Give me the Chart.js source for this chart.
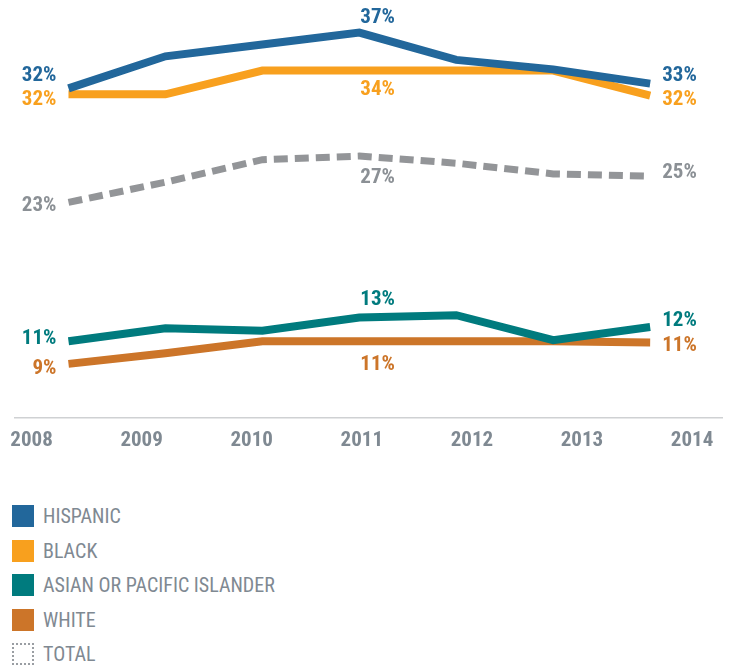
<!DOCTYPE html>
<html>

<head>
    <title>Rates by group, 2008-2014</title>
    <script src="https://cdn.jsdelivr.net/npm/chart.js"></script>
    <style>
        body {
            margin: 0;
            padding: 0;
            background-color: #fff;
            font-family: 'Liberation Sans Narrow', 'Roboto Condensed', Roboto, sans-serif;
        }

        .chart-wrap {
            position: relative;
            width: 731px;
            height: 472px;
        }

        #legend {
            list-style: none;
            margin: 0;
            padding: 0;
            position: absolute;
            left: 12px;
            top: 499px;
        }

        #legend li {
            display: flex;
            align-items: center;
            height: 34.5px;
            font-size: 20px;
            color: #7f8992;
        }

        #legend .box {
            width: 22px;
            height: 22px;
            margin-right: 9px;
            box-sizing: border-box;
        }
    </style>
</head>

<body>
    <div class="chart-wrap">
        <canvas id="rates-chart"></canvas>
    </div>
    <ul id="legend"></ul>

    <script>
        const FONT = "'Liberation Sans Narrow', 'Roboto Condensed', Roboto, sans-serif";

        // data (percent)
        const years = [2008, 2009, 2010, 2011, 2012, 2013, 2014];
        const hispanic = [32.3, 35.0, 36.0, 37.0, 34.7, 33.9, 32.7];
        const black = [31.8, 31.8, 33.8, 33.8, 33.8, 33.8, 31.7];
        const asian = [11.0, 12.1, 11.9, 13.0, 13.2, 11.1, 12.2];
        const white = [9.1, 10.0, 11.0, 11.0, 11.0, 11.0, 10.9];
        const total = [22.7, 24.4, 26.3, 26.6, 26.0, 25.1, 24.9];

        const seriesNames = ['HISPANIC', 'BLACK', 'ASIAN OR PACIFIC ISLANDER', 'WHITE', 'TOTAL'];
        const seriesValues = [hispanic, black, asian, white, total];
        const seriesColors = ['#22679b', '#f8a01e', '#007b7e', '#cc7529', '#939598'];

        // vertical nudge of the value labels: [first, middle, last]
        const labelNudge = [
            [-13, -15, -8],
            [5, 19, 4],
            [-3, -18, -6],
            [5, 23, 3],
            [3, 22, -4]
        ];
        const midIndex = 3;

        function pct(v) {
            return Math.round(v) + '%';
        }

        const datasets = seriesValues.map((vals, i) => ({
            label: seriesNames[i],
            data: vals.map((v, j) => ({ x: j, y: v })),
            xAxisID: 'xd',
            borderColor: seriesColors[i],
            backgroundColor: seriesColors[i],
            borderWidth: i === 4 ? 7 : 8,
            borderDash: i === 4 ? [14, 7] : [],
            borderCapStyle: 'butt',
            borderJoinStyle: 'miter',
            pointRadius: 0,
            tension: 0,
            fill: false
        }));

        const valueLabels = {
            id: 'valueLabels',
            afterDatasetsDraw(chart) {
                const ctx = chart.ctx;
                chart.data.datasets.forEach((ds, i) => {
                    const pts = chart.getDatasetMeta(i).data;
                    const last = pts.length - 1;
                    const nudge = labelNudge[i];
                    ctx.save();
                    ctx.fillStyle = i === 4 ? '#8b9095' : seriesColors[i];
                    ctx.font = 'bold 21px ' + FONT;
                    ctx.textBaseline = 'middle';
                    ctx.textAlign = 'right';
                    ctx.fillText(pct(ds.data[0].y), pts[0].x - 12, pts[0].y + nudge[0]);
                    ctx.textAlign = 'left';
                    ctx.fillText(pct(ds.data[midIndex].y), pts[midIndex].x + 1, pts[midIndex].y + nudge[1]);
                    ctx.fillText(pct(ds.data[last].y), pts[last].x + 12, pts[last].y + nudge[2]);
                    ctx.restore();
                });
            }
        };

        const ctx = document.getElementById('rates-chart').getContext('2d');
        const chart = new Chart(ctx, {
            type: 'line',
            data: { datasets: datasets },
            options: {
                responsive: true,
                maintainAspectRatio: false,
                animation: false,
                layout: {
                    padding: { left: 13, right: 9, top: 10, bottom: 9 }
                },
                plugins: {
                    legend: { display: false },
                    tooltip: { enabled: false }
                },
                scales: {
                    x: {
                        type: 'linear',
                        position: 'bottom',
                        min: 2007.846,
                        max: 2014.272,
                        afterBuildTicks: axis => {
                            axis.ticks = years.map(y => ({ value: y }));
                        },
                        ticks: {
                            callback: v => String(v),
                            color: '#7f8992',
                            padding: 10,
                            maxRotation: 0,
                            font: { family: FONT, size: 21, weight: 'bold' }
                        },
                        grid: { display: true, drawOnChartArea: false, drawTicks: false },
                        border: { display: true, color: '#cfd1d3', width: 1.5 }
                    },
                    xd: {
                        type: 'linear',
                        display: false,
                        min: -0.556,
                        max: 6.741
                    },
                    y: {
                        display: false,
                        min: 4.56,
                        max: 38.9
                    }
                }
            },
            plugins: [valueLabels]
        });

        // legend below the chart
        const legend = document.getElementById('legend');
        seriesNames.forEach((name, i) => {
            const li = document.createElement('li');
            const box = document.createElement('span');
            box.className = 'box';
            if (i === 4) {
                box.style.border = '2px dotted #9a9ea3';
            } else {
                box.style.backgroundColor = seriesColors[i];
            }
            li.appendChild(box);
            li.appendChild(document.createTextNode(name));
            legend.appendChild(li);
        });
    </script>
</body>

</html>
